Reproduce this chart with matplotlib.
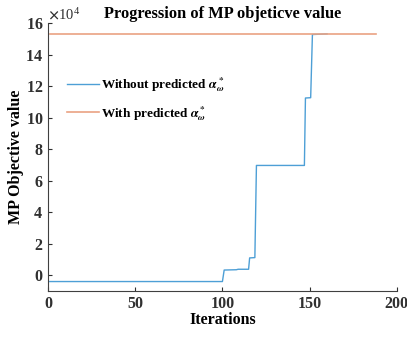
import numpy as np
import matplotlib.pyplot as plt

plt.rcParams['font.family'] = 'Liberation Serif'
plt.rcParams['font.weight'] = 'bold'
plt.rcParams['mathtext.fontset'] = 'stix'

# blue: without predicted alpha (x10^4 values)
iter_wo = [1, 100, 101, 108, 109, 115, 115.6, 118.6, 119.5, 147, 147.6, 150.6, 151.6, 160]
obj_wo = [-0.4, -0.4, 0.33, 0.35, 0.38, 0.38, 1.1, 1.12, 6.97, 6.97, 11.25, 11.27, 15.28, 15.32]
# orange: with predicted alpha
iter_w = [1, 188]
obj_w = [15.32, 15.32]

blue = '#4d9fd6'
orange = '#eaa283'

fig = plt.figure(figsize=(4.07, 3.39), dpi=100)
ax = fig.add_axes([0.118, 0.1416, 0.857, 0.79])
ax.plot(iter_wo, np.array(obj_wo) * 1e4, color=blue, lw=1.0,
        label=r'Without predicted $\alpha^*_\omega$')
ax.plot(iter_w, np.array(obj_w) * 1e4, color=orange, lw=1.2,
        label=r'With predicted $\alpha^*_\omega$')

ax.set_xlim(0, 200)
ax.set_ylim(-1e4, 16e4)
ax.set_xticks([0, 50, 100, 150, 200])
ax.set_yticks(np.arange(0, 17, 2) * 1e4)
ax.ticklabel_format(style='sci', axis='y', scilimits=(4, 4), useMathText=True)
ax.yaxis.get_offset_text().set_fontsize(10.5)
ax.yaxis.get_offset_text().set_fontweight('normal')

for s in ['top', 'right']:
    ax.spines[s].set_visible(False)
for s in ['left', 'bottom']:
    ax.spines[s].set_color('#404040')
    ax.spines[s].set_linewidth(0.8)
ax.tick_params(direction='in', length=3, colors='#303030', labelsize=11.5, width=0.8)
for lab in ax.get_xticklabels() + ax.get_yticklabels():
    lab.set_fontweight('bold')

ax.set_xlabel('Iterations', fontsize=11.5, fontweight='bold', labelpad=0)
ax.set_ylabel('MP Objective value', fontsize=11.5, fontweight='bold', labelpad=1)
ax.set_title('Progression of MP objeticve value', fontsize=11.8, fontweight='bold', pad=4)

leg = ax.legend(loc='upper left', bbox_to_anchor=(0.02, 0.85), frameon=False,
                fontsize=9.5, handlelength=2.4, handletextpad=0.15, labelspacing=0.75)
for t in leg.get_texts():
    t.set_fontweight('bold')

fig.savefig('out.png', dpi=100)
